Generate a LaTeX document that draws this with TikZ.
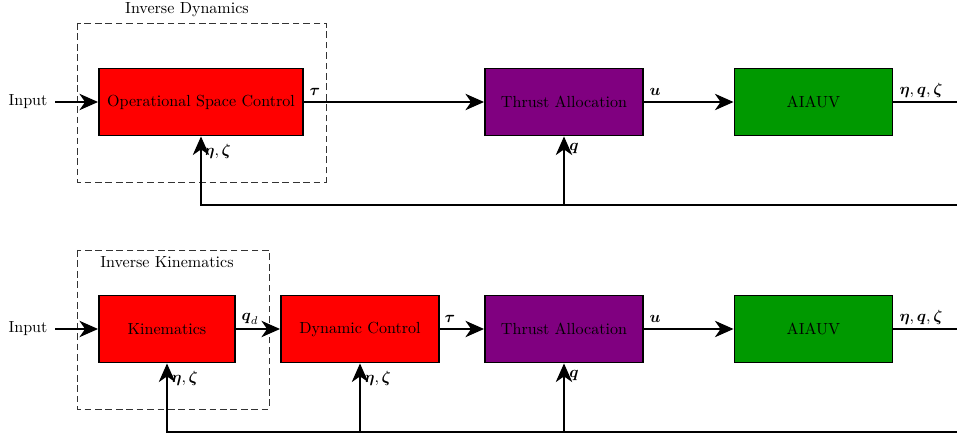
\documentclass[tikz,border=0pt]{standalone}
\usepackage{amsmath}
\usepackage{fix-cm}
\usetikzlibrary{arrows.meta}
\definecolor{boxred}{RGB}{255,0,0}
\definecolor{boxpurple}{RGB}{128,0,128}
\definecolor{boxgreen}{RGB}{0,153,0}
\newcommand{\myfs}{\fontsize{10.8}{13}\selectfont}
\tikzset{
  blk/.style={draw=black, line width=1.3pt, inner sep=0pt, minimum height=45pt, font=\myfs},
  arr/.style={line width=1.3pt, -{Stealth[length=12.5pt, width=11pt, inset=3.8pt]}},
  ln/.style={line width=1.3pt},
  dbox/.style={draw=black!80, line width=0.6pt, dash pattern=on 4.5pt off 2.5pt},
  lbl/.style={inner sep=0pt, font=\myfs},
}
\begin{document}
\begin{tikzpicture}[x=0.6722pt, y=-0.6722pt]
\useasboundingbox (0,0) rectangle (957,434);
% ---------- top row ----------
\draw[dbox] (77,23) rectangle (326,182);
\node[lbl] (tidlab) at (187,10) {Inverse Dynamics};
\node[lbl] (tin) at (28,102) {Input};
\node[blk, fill=boxred, minimum width=137.1pt] (osc) at (201,102) {Operational Space Control};
\node[blk, fill=boxpurple, minimum width=106.2pt] (tta) at (564,102) {Thrust Allocation};
\node[blk, fill=boxgreen, minimum width=106.2pt] (tai) at (813.5,102) {AIAUV};
\coordinate (tout) at (957,102);
\coordinate (tfb) at (957,205);
\draw[arr] ([xshift=5pt]tin.east) -- (osc.west);
\draw[arr] (osc.east) -- (tta.west);
\draw[arr] (tta.east) -- (tai.west);
\draw[ln] (tai.east) -- (tout);
\draw[arr] (tfb) -| (osc.south);
\draw[arr] (tta.south |- tfb) -- (tta.south);
\node[lbl] (ttau) at (315,92) {$\boldsymbol{\tau}$};
\node[lbl] (tu) at (655,92) {$\boldsymbol{u}$};
\node[lbl] (tout1) at (921,90) {$\boldsymbol{\eta},\boldsymbol{q},\boldsymbol{\zeta}$};
\node[lbl, anchor=west] (tez) at (204,151) {$\boldsymbol{\eta},\boldsymbol{\zeta}$};
\node[lbl, anchor=west] (tq) at (569,148) {$\boldsymbol{q}$};
% ---------- bottom row ----------
\draw[dbox] (77,250) rectangle (269,409);
\node[lbl] (bikl) at (167,262) {Inverse Kinematics};
\node[lbl] (bin) at (28,329) {Input};
\node[blk, fill=boxred, minimum width=91.4pt] (kin) at (167,329) {Kinematics};
\node[blk, fill=boxred, minimum width=106.2pt] (dc) at (360,329) {Dynamic Control};
\node[blk, fill=boxpurple, minimum width=106.2pt] (bta) at (564,329) {Thrust Allocation};
\node[blk, fill=boxgreen, minimum width=106.2pt] (bai) at (813.5,329) {AIAUV};
\coordinate (bout) at (957,329);
\coordinate (bfb) at (957,432);
\draw[arr] ([xshift=5pt]bin.east) -- (kin.west);
\draw[arr] (kin.east) -- (dc.west);
\draw[arr] (dc.east) -- (bta.west);
\draw[arr] (bta.east) -- (bai.west);
\draw[ln] (bai.east) -- (bout);
\draw[arr] (bfb) -| (kin.south);
\draw[arr] (dc.south |- bfb) -- (dc.south);
\draw[arr] (bta.south |- bfb) -- (bta.south);
\node[lbl] (bqd) at (250,319) {$\boldsymbol{q}_d$};
\node[lbl] (btau) at (450,319) {$\boldsymbol{\tau}$};
\node[lbl] (bu) at (655,319) {$\boldsymbol{u}$};
\node[lbl] (bout1) at (921,317) {$\boldsymbol{\eta},\boldsymbol{q},\boldsymbol{\zeta}$};
\node[lbl, anchor=west] (bez1) at (171,378) {$\boldsymbol{\eta},\boldsymbol{\zeta}$};
\node[lbl, anchor=west] (bez2) at (364,378) {$\boldsymbol{\eta},\boldsymbol{\zeta}$};
\node[lbl, anchor=west] (bq) at (569,375) {$\boldsymbol{q}$};
\end{tikzpicture}
\end{document}
